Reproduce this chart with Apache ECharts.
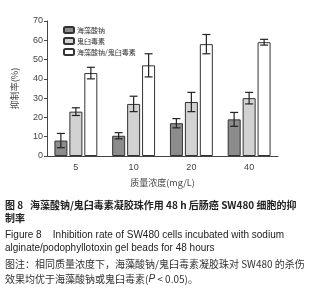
<!DOCTYPE html>
<html>
<head>
<meta charset="utf-8">
<script src="https://cdn.jsdelivr.net/npm/echarts@6/dist/echarts.min.js"></script>
<style>
html, body { margin: 0; padding: 0; background: #fff; }
#chart { width: 322px; height: 300px; }
</style>
</head>
<body>
<div id="chart"></div>
<script>
var categories = ['5', '10', '20', '40'];
var seriesNames = ['海藻酸钠', '鬼臼毒素', '海藻酸钠/鬼臼毒素'];
var sodiumAlginate = [8, 10.5, 17, 19];
var sodiumAlginateErr = [3.7, 1.6, 2.4, 3.6];
var podophyllotoxin = [23, 27, 28, 30];
var podophyllotoxinErr = [2, 4, 5, 3];
var combined = [43, 47, 58, 59];
var combinedErr = [3, 6, 5, 1.5];

var font = '"Liberation Sans", Arial, "Noto Sans CJK SC", sans-serif';
var cjk = '"Noto Sans CJK SC", "Liberation Sans", sans-serif';
var colors = ['#8c8c8c', '#d2d2d2', '#ffffff'];

var myChart = echarts.init(document.getElementById('chart'));

// error bars, drawn on top of the bars (offset in px from category centre)
var errorSeries = function (values, errs, offset) {
    var data = [];
    for (var i = 0; i < values.length; i++) {
        data.push([i, values[i] - errs[i], values[i] + errs[i]]);
    }
    return {
        type: 'custom',
        silent: true,
        z: 5,
        data: data,
        renderItem: function (params, api) {
            var lo = api.coord([api.value(0), api.value(1)]);
            var hi = api.coord([api.value(0), api.value(2)]);
            var x = lo[0] + offset;
            var w = 4;
            var style = { stroke: '#222', lineWidth: 1.2 };
            return {
                type: 'group',
                children: [
                    { type: 'line', shape: { x1: x, y1: lo[1], x2: x, y2: hi[1] }, style: style },
                    { type: 'line', shape: { x1: x - w, y1: lo[1], x2: x + w, y2: lo[1] }, style: style },
                    { type: 'line', shape: { x1: x - w, y1: hi[1], x2: x + w, y2: hi[1] }, style: style }
                ]
            };
        }
    };
};

var captionStyle = function (text, y, size, weight, color, family, rich) {
    return {
        type: 'text',
        left: 5,
        top: y,
        style: {
            text: text,
            fontSize: size,
            fontWeight: weight,
            fill: color,
            fontFamily: family,
            rich: rich
        }
    };
};

var option = {
    animation: false,
    grid: {
        left: 47,
        right: 44,
        top: 21,
        bottom: 144
    },
    legend: {
        orient: 'vertical',
        left: 58,
        top: 21,
        itemWidth: 10,
        itemHeight: 6,
        itemGap: 3,
        data: seriesNames,
        textStyle: { fontSize: 7, color: '#333', fontFamily: cjk, padding: [0, 0, 0, -2] }
    },
    xAxis: {
        type: 'category',
        data: categories,
        name: '质量浓度(mg/L)',
        nameLocation: 'middle',
        nameGap: 22,
        nameTextStyle: { fontSize: 9, color: '#444', fontFamily: cjk },
        axisLine: { lineStyle: { color: '#444', width: 1 } },
        axisTick: { show: false },
        axisLabel: { fontSize: 9, color: '#444', fontFamily: font, margin: 7 }
    },
    yAxis: {
        type: 'value',
        min: 0,
        max: 70,
        interval: 10,
        name: '抑制率(%)',
        nameLocation: 'middle',
        nameGap: 28,
        nameRotate: 90,
        nameTextStyle: { fontSize: 9, color: '#444', fontFamily: cjk },
        axisLine: { show: true, lineStyle: { color: '#444', width: 1 } },
        axisTick: { show: true, length: 3, lineStyle: { color: '#444' } },
        axisLabel: { fontSize: 9, color: '#444', fontFamily: font, margin: 4 },
        splitLine: { show: false }
    },
    series: [
        {
            name: seriesNames[0], type: 'bar', data: sodiumAlginate,
            barWidth: 13, barGap: '15%',
            itemStyle: { color: colors[0], borderColor: '#333', borderWidth: 1 }
        },
        {
            name: seriesNames[1], type: 'bar', data: podophyllotoxin,
            barWidth: 13, barGap: '15%',
            itemStyle: { color: colors[1], borderColor: '#333', borderWidth: 1 }
        },
        {
            name: seriesNames[2], type: 'bar', data: combined,
            barWidth: 13, barGap: '15%',
            itemStyle: { color: colors[2], borderColor: '#333', borderWidth: 1 }
        },
        errorSeries(sodiumAlginate, sodiumAlginateErr, -15),
        errorSeries(podophyllotoxin, podophyllotoxinErr, 0),
        errorSeries(combined, combinedErr, 15)
    ],
    graphic: [
        captionStyle('图 8   海藻酸钠/鬼臼毒素凝胶珠作用 48 h 后肠癌 SW480 细胞的抑', 200, 10, 'bold', '#222', cjk),
        captionStyle('制率', 213, 10, 'bold', '#222', cjk),
        captionStyle('Figure 8    Inhibition rate of SW480 cells incubated with sodium', 230, 10, 'normal', '#222', font),
        captionStyle('alginate/podophyllotoxin gel beads for 48 hours', 243, 10, 'normal', '#222', font),
        captionStyle('图注：相同质量浓度下，海藻酸钠/鬼臼毒素凝胶珠对 SW480 的杀伤', 259, 10, 'normal', '#333', cjk),
        captionStyle('效果均优于海藻酸钠或鬼臼毒素({i|P} < 0.05)。', 274, 10, 'normal', '#333', cjk, {
            i: { fontStyle: 'italic', fontSize: 10, fill: '#333', fontFamily: font }
        })
    ]
};
myChart.setOption(option);
</script>
</body>
</html>
